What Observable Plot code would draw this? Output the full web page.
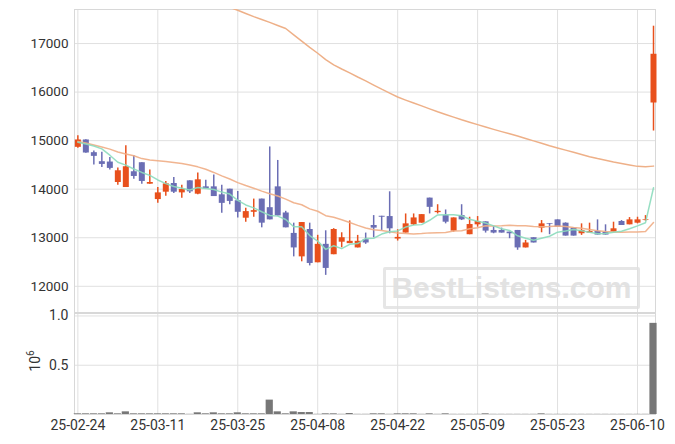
<!DOCTYPE html>
<html><head><meta charset="utf-8">
<script src="https://cdn.jsdelivr.net/npm/d3@7"></script>
<script src="https://cdn.jsdelivr.net/npm/@observablehq/plot@0.6"></script>
<style>
body{margin:0;background:#fff;}
#wrap{position:relative;width:675px;height:444px;font-family:Roboto,sans-serif;}
#wm{position:absolute;left:383px;top:267px;width:251px;height:36px;border:3px solid #e6e6e6;border-radius:2px;
 font-family:"Liberation Sans",Arial,sans-serif;font-weight:bold;font-size:30px;color:#e2e2e2;text-align:center;line-height:36px;z-index:0;}
#charts{position:relative;z-index:1;}
#charts svg{display:block;}
</style></head><body>
<div id="wrap"><div id="wm">BestListens.com</div><div id="charts"></div></div>
<script>
const dates = ["25-02-24","25-02-25","25-02-26","25-02-27","25-02-28","25-03-04","25-03-05","25-03-06","25-03-07","25-03-10",
"25-03-11","25-03-12","25-03-13","25-03-14","25-03-17","25-03-18","25-03-19","25-03-20","25-03-21","25-03-24",
"25-03-25","25-03-26","25-03-27","25-03-28","25-03-31","25-04-01","25-04-02","25-04-03","25-04-04","25-04-07",
"25-04-08","25-04-09","25-04-10","25-04-11","25-04-14","25-04-15","25-04-16","25-04-17","25-04-18","25-04-21",
"25-04-22","25-04-23","25-04-24","25-04-25","25-04-28","25-04-29","25-04-30","25-05-02","25-05-07","25-05-08",
"25-05-09","25-05-12","25-05-13","25-05-14","25-05-15","25-05-16","25-05-19","25-05-20","25-05-21","25-05-22",
"25-05-23","25-05-26","25-05-27","25-05-28","25-05-29","25-05-30","25-06-02","25-06-04","25-06-05","25-06-09",
"25-06-10","25-06-11","25-06-12"];
const open = [14862,15014,14752,14566,14559,14138,14034,14359,14545,14103,
13786,13938,14117,13924,14172,13897,14048,14048,13884,14000,
13762,13402,13524,13796,13619,14048,13510,13089,12606,13170,
12484,12864,12650,12908,12878,12790,12960,13252,13442,13436,
12973,13096,13266,13300,13816,13517,13456,13136,13456,13062,
13266,13327,13150,13150,13116,13150,12790,13000,13198,13293,
13368,13300,13198,13082,13096,13130,13109,13116,13334,13266,
13300,13354,15775];
const high = [15103,15020,14786,14759,14655,14434,14897,14690,14545,14393,
14034,14159,14241,14083,14172,14331,14186,14290,14082,14000,
13952,13606,13796,13796,14870,14592,13544,13300,13313,13300,
13050,13143,13187,13102,13347,13048,13096,13456,13442,13946,
13164,13490,13490,13476,13816,13680,13572,13408,13680,13422,
13436,13327,13232,13198,13116,13150,12946,13000,13354,13293,
13368,13306,13198,13286,13300,13368,13266,13320,13354,13415,
13422,13456,17357];
const low = [14841,14738,14497,14448,14393,14083,14034,14207,14103,14103,
13710,13855,13910,13814,13910,13883,14007,13848,13504,13680,
13408,13320,13422,13204,13368,13449,13204,12606,12504,12420,
12484,12225,12650,12793,12878,12790,12864,13000,13150,13082,
12932,13096,13252,13300,13490,13490,13286,13116,13354,13062,
13218,13096,13082,13096,12980,12742,12790,12892,13102,13062,
13218,13034,13034,13048,13096,13055,13055,13116,13252,13266,
13286,13340,15198];
const close = [15014,14745,14676,14510,14428,14379,14462,14262,14159,14138,
13924,14110,13938,13993,13945,14193,14007,13848,13708,13748,
13524,13538,13558,13300,13368,13449,13204,12790,13313,12470,
12864,12368,13170,13000,12926,12926,12892,13198,13422,13184,
13007,13286,13408,13476,13626,13544,13320,13408,13368,13272,
13334,13136,13096,13096,13082,12790,12892,12892,13286,13279,
13218,13034,13034,13150,13130,13055,13055,13184,13252,13368,
13368,13368,16779];
const volume = [7000,7000,7000,7000,17000,7000,27000,7000,7000,7000,
7000,7000,7000,7000,2000,17000,7000,17000,7000,7000,
17000,7000,7000,7000,146000,27000,7000,27000,20000,20000,
2000,7000,7000,2000,10000,2000,2000,7000,7000,2000,
7000,7000,7000,2000,7000,2000,7000,2000,2000,2000,
2000,7000,2000,2000,2000,2000,2000,2000,7000,2000,
2000,2000,2000,2000,2000,2000,2000,2000,2000,2000,
2000,2000,925000];
const ma5 = [14966,14931,14890,14830,14700,14555,14495,14415,14345,14285,
14190,14115,14055,14020,13985,14035,14015,13995,13940,13900,
13770,13675,13615,13535,13460,13445,13375,13225,13225,13045,
12930,12760,12835,12775,12865,12880,12985,12990,13075,13125,
13140,13220,13260,13270,13360,13470,13475,13475,13455,13380,
13340,13305,13245,13185,13150,13040,12990,12950,12990,13030,
13115,13140,13170,13145,13115,13080,13085,13115,13135,13185,
13245,13310,14030];
const ma20 = [14980,14950,14910,14870,14825,14765,14725,14690,14630,14600,
14585,14570,14550,14530,14500,14460,14410,14345,14275,14210,
14135,14075,14020,13960,13905,13860,13795,13720,13680,13595,
13545,13455,13420,13370,13315,13255,13200,13165,13150,13125,
13095,13085,13075,13085,13100,13105,13110,13140,13145,13185,
13205,13245,13240,13245,13255,13245,13245,13230,13225,13230,
13240,13230,13210,13195,13170,13145,13130,13120,13115,13120,
13120,13130,13315];
// long moving average, starting at index 18 (above the visible range before)
const maLongStart = 18;
const maLong = [17810,17745,17685,17620,17555,17495,17435,17370,17309,17180,
17050,16920,16800,16670,16560,16475,16395,16310,16230,16145,
16060,15980,15899,15835,15775,15715,15655,15595,15540,15485,
15430,15380,15330,15280,15232,15185,15140,15095,15045,14995,
14945,14895,14850,14805,14760,14715,14670,14630,14595,14560,
14530,14500,14470,14460,14475];
const priceTicks = [12000,13000,14000,15000,16000,17000];
const volTicks = [0.5, 1.0];
const xTicks = [0,10,20,30,40,50,60,70];

const rows = dates.map((d,i)=>({i, date:d, open:open[i], high:high[i], low:low[i], close:close[i], vol:volume[i], ma5:ma5[i], ma20:ma20[i]}));
const longRows = maLong.map((v,k)=>({i:k+maLongStart, v}));

const UP = "#e8501c", DOWN = "#6b6eb4", GRID = "#e0e0e0";
const xDomain = [-0.42, 72.25];
const col = d => d.close >= d.open ? UP : DOWN;

const main = Plot.plot({
  width: 675, height: 313,
  marginLeft: 74, marginRight: 20, marginTop: 9, marginBottom: 1,
  style: {fontFamily: "Roboto, sans-serif", fontSize: "13.5px", color: "#333", background: "transparent", overflow: "visible"},
  x: {domain: xDomain, axis: null},
  y: {domain: [11460, 17701], ticks: priceTicks, tickFormat: d => String(d), tickSize: 0, tickPadding: 6, label: null},
  marks: [
    Plot.gridY(priceTicks, {stroke: GRID, strokeOpacity: 1}),
    Plot.gridX(xTicks, {stroke: GRID, strokeOpacity: 1}),
    Plot.frame({stroke: "#d8d8d8"}),
    Plot.ruleX(rows, {x: "i", y1: "low", y2: "high", stroke: col, strokeWidth: 1.5}),
    Plot.ruleX(rows, {x: "i", y1: "open", y2: "close", stroke: col, strokeWidth: 6}),
    Plot.line(longRows, {x: "i", y: "v", stroke: "#eeb088", strokeWidth: 1.5, clip: true}),
    Plot.line(rows, {x: "i", y: "ma20", stroke: "#efad85", strokeWidth: 1.5, strokeOpacity: 0.9}),
    Plot.line(rows, {x: "i", y: "ma5", stroke: "#8cdbbd", strokeWidth: 1.5, strokeOpacity: 0.9})
  ]
});

const vol = Plot.plot({
  width: 675, height: 131,
  marginLeft: 74, marginRight: 20, marginTop: 0, marginBottom: 30,
  style: {fontFamily: "Roboto, sans-serif", fontSize: "14px", color: "#333", background: "transparent", overflow: "visible"},
  x: {domain: xDomain, ticks: xTicks, tickFormat: i => dates[i], tickSize: 0, tickPadding: 6, label: null},
  y: {domain: [0, 1.025], ticks: volTicks, tickFormat: d3.format(".1f"), tickSize: 0, tickPadding: 6, label: null},
  marks: [
    Plot.gridY(volTicks, {stroke: GRID, strokeOpacity: 1}),
    Plot.gridX(xTicks, {stroke: GRID, strokeOpacity: 1}),
    Plot.frame({stroke: "#d8d8d8"}),
    Plot.rectY(rows, {x1: d => d.i - 0.45, x2: d => d.i + 0.45, y: d => d.vol / 1e6, fill: "#777"}),
    Plot.text(["10⁶"], {frameAnchor: "left", dx: -39, dy: -3, rotate: -90, textAnchor: "middle", fontSize: 14, fill: "#333"})
  ]
});

// render the exponent as a real superscript
d3.select(vol).selectAll("text").filter(function(){ return this.textContent === "10⁶"; }).each(function(){
  const t = d3.select(this);
  t.text("");
  t.append("tspan").text("10");
  t.append("tspan").attr("dy", "-0.55em").attr("font-size", "10px").text("6");
});

document.getElementById("charts").append(main, vol);
</script>
</body></html>
